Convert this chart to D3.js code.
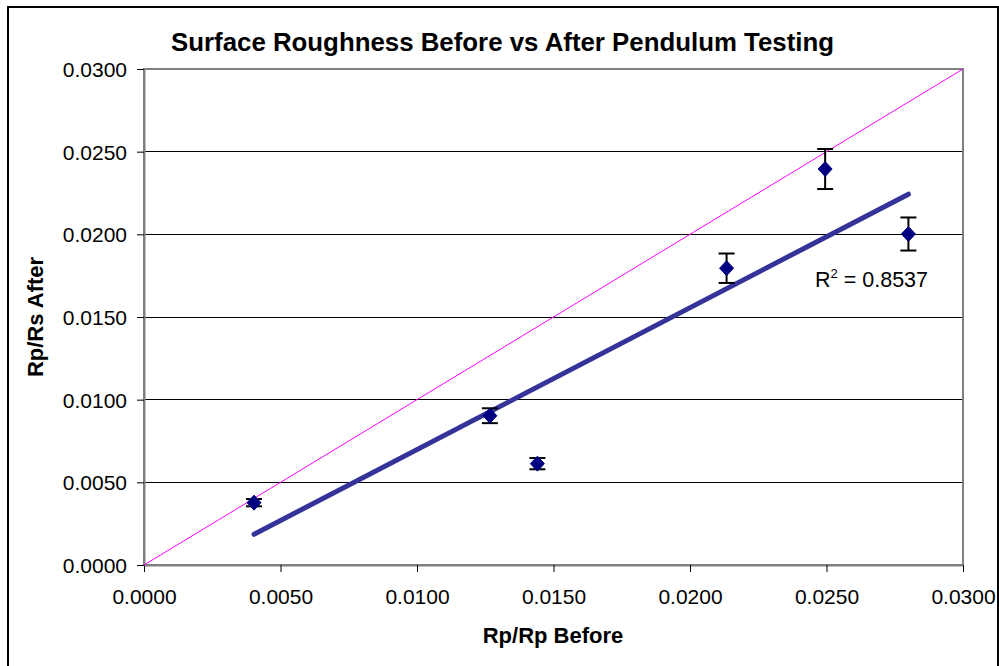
<!DOCTYPE html>
<html><head><meta charset="utf-8">
<script src="https://cdn.jsdelivr.net/npm/d3@7/dist/d3.min.js"></script>
<style>body{margin:0;background:#fff}svg{display:block}</style>
</head><body><svg id="c" width="999" height="666"></svg>
<script>
// ---- data ----
const rpBefore = [0.00403, 0.01267, 0.01441, 0.02134, 0.02495, 0.02800];
const rsAfter  = [0.00377, 0.00903, 0.00613, 0.01795, 0.02395, 0.02002];
const errAfter = [0.00022, 0.00045, 0.00034, 0.00089, 0.00121, 0.00100];
const xTickValues = [0, 0.005, 0.010, 0.015, 0.020, 0.025, 0.030];
const yTickValues = [0, 0.005, 0.010, 0.015, 0.020, 0.025, 0.030];
const refLine = [0, 0.030];           // y = x reference line
const r2Text = "0.8537";
const titleText = "Surface Roughness Before vs After Pendulum Testing";
const xTitle = "Rp/Rp Before";
const yTitle = "Rp/Rs After";

// ---- layout ----
const W = 999, H = 666;
const m = {left:144, right:36, top:69, bottom:101};
const font = "'Liberation Sans', Arial, sans-serif";
const svg = d3.select("#c");

svg.append("rect").attr("x",8).attr("y",7).attr("width",990).attr("height",680)
  .attr("fill","#fff").attr("stroke","#000").attr("stroke-width",2);

const x = d3.scaleLinear().domain([0,0.03]).range([m.left, W-m.right]);
const y = d3.scaleLinear().domain([0,0.03]).range([H-m.bottom, m.top]);

// gridlines
svg.append("g").selectAll("line").data(yTickValues.slice(1,-1)).join("line")
  .attr("x1",x(0)).attr("x2",x(0.03)).attr("y1",d=>y(d)).attr("y2",d=>y(d))
  .attr("stroke","#000").attr("stroke-width",1).attr("shape-rendering","crispEdges");

// plot border
svg.append("rect").attr("x",x(0)).attr("y",y(0.03))
  .attr("width",x(0.03)-x(0)).attr("height",y(0)-y(0.03))
  .attr("fill","none").attr("stroke","#808080").attr("stroke-width",2);

// axes
const fmt = d3.format(".4f");
const xAxis = svg.append("g").attr("transform",`translate(0,${y(0)})`)
  .call(d3.axisBottom(x).tickValues(xTickValues).tickFormat(fmt).tickSize(7).tickSizeOuter(0));
const yAxis = svg.append("g").attr("transform",`translate(${x(0)},0)`)
  .call(d3.axisLeft(y).tickValues(yTickValues).tickFormat(fmt).tickSize(7).tickSizeOuter(0));
[xAxis,yAxis].forEach(a=>{
  a.select(".domain").attr("stroke","#808080").attr("stroke-width",2);
  a.selectAll(".tick line").attr("stroke","#000").attr("stroke-width",1);
  a.selectAll(".tick text").attr("font-family",font).attr("font-size",21).attr("fill","#000");
});
xAxis.selectAll(".tick text").attr("dy","0.71em").attr("y",24);
yAxis.selectAll(".tick text").attr("x",-17).attr("dy","0.36em");

// y = x reference line
svg.append("line").attr("x1",x(refLine[0])).attr("y1",y(refLine[0]))
  .attr("x2",x(refLine[1])).attr("y2",y(refLine[1]))
  .attr("stroke","#ff00ff").attr("stroke-width",1);

// linear regression
const n = rpBefore.length;
const mx = d3.mean(rpBefore), my = d3.mean(rsAfter);
let sxy=0, sxx=0;
for (let i=0;i<n;i++){ sxy+=(rpBefore[i]-mx)*(rsAfter[i]-my); sxx+=(rpBefore[i]-mx)**2; }
const slope = sxy/sxx, icpt = my - slope*mx;
const [x0,x1] = d3.extent(rpBefore);
svg.append("line").attr("x1",x(x0)).attr("y1",y(slope*x0+icpt))
  .attr("x2",x(x1)).attr("y2",y(slope*x1+icpt))
  .attr("stroke","#333399").attr("stroke-width",5).attr("stroke-linecap","round");

// error bars
const pts = rpBefore.map((v,i)=>({x:v,y:rsAfter[i],e:errAfter[i]}));
const eb = svg.append("g").attr("stroke","#000").attr("stroke-width",2);
pts.forEach(p=>{
  eb.append("line").attr("x1",x(p.x)).attr("x2",x(p.x)).attr("y1",y(p.y-p.e)).attr("y2",y(p.y+p.e));
  [p.y-p.e,p.y+p.e].forEach(v=>eb.append("line").attr("x1",x(p.x)-8).attr("x2",x(p.x)+8).attr("y1",y(v)).attr("y2",y(v)));
});

// markers (diamonds)
svg.append("g").selectAll("path").data(pts).join("path")
  .attr("transform",d=>`translate(${x(d.x)},${y(d.y)})`)
  .attr("d","M0,-7.5L7,0L0,7.5L-7,0Z").attr("fill","#000080").attr("stroke","#000080").attr("stroke-width",1);

// R^2 label
const lab = svg.append("text").attr("x",815).attr("y",287).attr("font-family",font).attr("font-size",21.5).attr("fill","#000");
lab.append("tspan").text("R");
lab.append("tspan").text("2").attr("font-size",13).attr("dy",-9);
lab.append("tspan").text(" = " + r2Text).attr("dy",9);

// titles
svg.append("text").attr("x",171).attr("y",51).attr("textLength",663).attr("lengthAdjust","spacingAndGlyphs")
  .attr("font-family",font).attr("font-weight","bold").attr("font-size",25).text(titleText);
svg.append("text").attr("x",553).attr("y",643).attr("text-anchor","middle")
  .attr("font-family",font).attr("font-weight","bold").attr("font-size",22).text(xTitle);
svg.append("text").attr("transform",`translate(43,${(y(0)+y(0.03))/2}) rotate(-90)`).attr("text-anchor","middle")
  .attr("font-family",font).attr("font-weight","bold").attr("font-size",22).text(yTitle);
</script>
</body></html>
